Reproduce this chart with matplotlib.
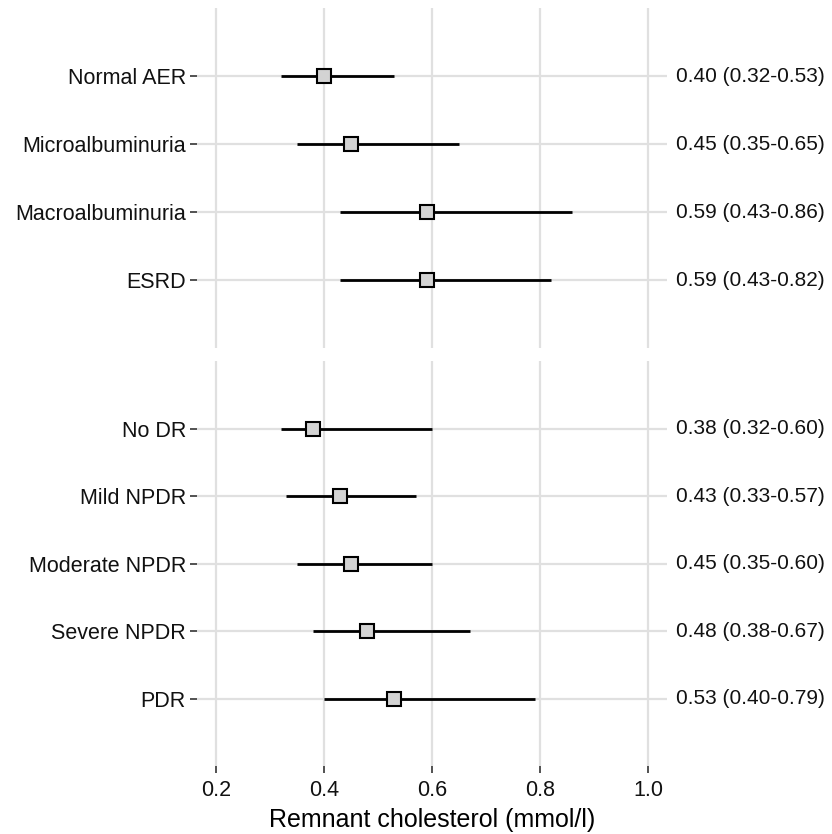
import matplotlib.pyplot as plt
from matplotlib.transforms import blended_transform_factory

plt.rcParams['font.family'] = ['Liberation Sans', 'DejaVu Sans']

# albuminuria groups (top panel)
top_labels = ['Normal AER', 'Microalbuminuria', 'Macroalbuminuria', 'ESRD']
top_est = [0.40, 0.45, 0.59, 0.59]
top_lo = [0.32, 0.35, 0.43, 0.43]
top_hi = [0.53, 0.65, 0.86, 0.82]

# retinopathy groups (bottom panel)
bot_labels = ['No DR', 'Mild NPDR', 'Moderate NPDR', 'Severe NPDR', 'PDR']
bot_est = [0.38, 0.43, 0.45, 0.48, 0.53]
bot_lo = [0.32, 0.33, 0.35, 0.38, 0.40]
bot_hi = [0.60, 0.57, 0.60, 0.67, 0.79]

xticks = [0.2, 0.4, 0.6, 0.8, 1.0]
xticklabels = ['0.2', '0.4', '0.6', '0.8', '1.0']

fig = plt.figure(figsize=(8.32, 8.34), dpi=100)
ax1 = fig.add_axes([0.2368, 0.5827, 0.5649, 0.4077])
ax2 = fig.add_axes([0.2368, 0.0815, 0.5649, 0.4856])


def forest(ax, labels, est, lo, hi, show_x):
    n = len(labels)
    ys = list(range(n, 0, -1))
    for y, e, l, h in zip(ys, est, lo, hi):
        ax.plot([l, h], [y, y], color='black', lw=2, solid_capstyle='butt', zorder=3)
        ax.plot(e, y, marker='s', ms=10, mfc='#d3d3d3', mec='black', mew=1.5, zorder=4)
    ax.set_xlim(0.165, 1.035)
    ax.set_ylim(0.0, n + 1.0)
    ax.set_yticks(ys)
    ax.set_yticklabels(labels, fontsize=15.5, color='#111111')
    ax.set_xticks(xticks)
    ax.grid(True, color='#e0e0e0', lw=1.6, zorder=0)
    ax.set_axisbelow(True)
    for s in ax.spines.values():
        s.set_visible(False)
    ax.tick_params(axis='y', length=5, width=1.2, color='#333333', pad=3)
    if show_x:
        ax.set_xticklabels(xticklabels, fontsize=15.5, color='#111111')
        ax.tick_params(axis='x', length=5, width=1.2, color='#333333', pad=5)
        ax.set_xlabel('Remnant cholesterol (mmol/l)', fontsize=18, labelpad=5)
    else:
        ax.tick_params(axis='x', length=0, labelbottom=False)
    trans = blended_transform_factory(ax.transAxes, ax.transData)
    for y, e, l, h in zip(ys, est, lo, hi):
        ax.text(1.019, y, f'{e:.2f} ({l:.2f}-{h:.2f})', transform=trans,
                ha='left', va='center', fontsize=15, color='#111111')


forest(ax1, top_labels, top_est, top_lo, top_hi, False)
forest(ax2, bot_labels, bot_est, bot_lo, bot_hi, True)

fig.savefig('out.png', dpi=100, facecolor='white')
